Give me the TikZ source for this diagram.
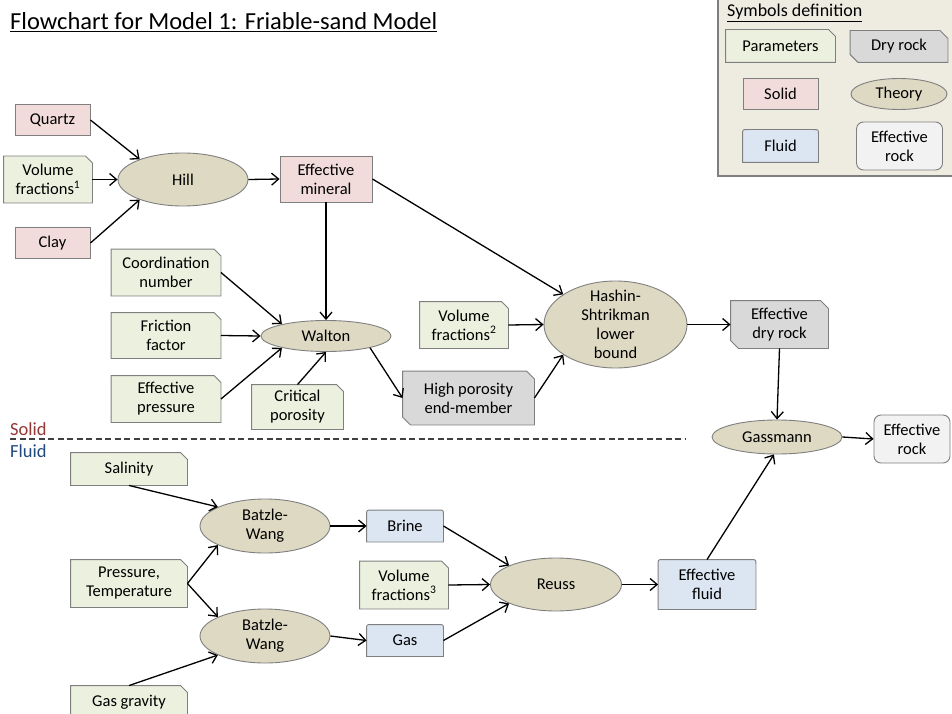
\documentclass[tikz,border=0pt]{standalone}
\usepackage{fontspec}
\setmainfont{Carlito}
\usetikzlibrary{arrows.meta,backgrounds,shapes.geometric}

\definecolor{paramc}{HTML}{EBF1DE}
\definecolor{solidc}{HTML}{F2DCDB}
\definecolor{dryc}{HTML}{D9D9D9}
\definecolor{fluidc}{HTML}{DCE6F2}
\definecolor{theoryc}{HTML}{DDD9C3}
\definecolor{rockc}{HTML}{F2F2F2}
\definecolor{legendc}{HTML}{EEECE1}
\definecolor{edgec}{HTML}{7F7F7F}
\definecolor{solidtxt}{HTML}{953735}
\definecolor{fluidtxt}{HTML}{1F497D}

\tikzset{
    flowbox/.style = {rectangle, inner sep=0pt, align=center, line width=0.9pt,
                      font=\fontsize{16.5}{19}\selectfont},
    sz/.style 2 args = {minimum width=#1pt, minimum height=#2pt},
    parambox/.style = {flowbox},
    drybox/.style = {flowbox},
    fluidbox/.style = {flowbox},
    solidbox/.style = {flowbox, draw=edgec, fill=solidc},
    rockbox/.style = {flowbox, draw=edgec, fill=rockc, rounded corners=7pt},
    theory/.style = {flowbox, ellipse, draw=edgec, fill=theoryc},
    shapeline/.style = {draw=edgec, line width=0.9pt},
    link/.style = {black, line width=1.3pt, -{Straight Barb[length=7pt,width=12pt]}},
    sidelabel/.style = {anchor=west, inner sep=0pt, font=\fontsize{18.5}{22}\selectfont},
}

\begin{document}
\begin{tikzpicture}[x=1pt, y=-1pt]
            \useasboundingbox (0,0) rectangle (952,714);

            \node[anchor=base west, inner sep=0pt, font=\fontsize{24.5}{28}\selectfont] (title) at (10,30)
                {\underline{Flowchart for Model 1: Friable-sand Model}};

            % legend
            \node[anchor=base west, inner sep=0pt, font=\fontsize{18}{22}\selectfont] (legtitle) at (727,17)
                {\underline{Symbols definition}};
            \node[parambox, sz={109}{32}] (legparam) at (780.5,46) {Parameters};
            \node[drybox, sz={97}{31}] (legdry) at (899,46.5) {Dry rock};
            \node[solidbox, sz={75}{31}] (legsolid) at (780.5,93.5) {Solid};
            \node[theory, sz={96}{31}] (legtheory) at (899,94) {Theory};
            \node[fluidbox, sz={75}{32}] (legfluid) at (780.5,146) {Fluid};
            \node[rockbox, sz={86}{48}] (legrock) at (899.5,146) {Effective\\rock};

            % solid part
            \node[solidbox, sz={75}{31}] (quartz) at (52.5,120) {Quartz};
            \node[parambox, sz={88}{46}] (volone) at (48,179.5) {Volume\\fractions\textsuperscript{1}};
            \node[solidbox, sz={75}{31}] (clay) at (52.5,243) {Clay};
            \node[theory, sz={130}{53}] (hill) at (183,179.5) {Hill};
            \node[solidbox, sz={92}{46}] (effmin) at (326,179) {Effective\\mineral};
            \node[parambox, sz={109}{46}] (coord) at (166,272.5) {Coordination\\number};
            \node[parambox, sz={109}{45}] (friction) at (166,335.5) {Friction\\factor};
            \node[parambox, sz={109}{46}] (effpress) at (166,399) {Effective\\pressure};
            \node[theory, sz={130}{31}] (walton) at (326,336) {Walton};
            \node[parambox, sz={91}{44}] (critpor) at (297.5,407) {Critical\\porosity};
            \node[drybox, sz={131}{53}] (highpor) at (468.5,398) {High porosity\\end-member};
            \node[parambox, sz={88}{46}] (voltwo) at (464,325) {Volume\\fractions\textsuperscript{2}};
            \node[theory, sz={143}{87}, inner ysep=-8pt] (hashin) at (615.5,324.5) {Hashin-\\Shtrikman\\lower\\bound};
            \node[drybox, sz={97}{47}] (effdry) at (779.5,324.5) {Effective\\dry rock};
            \node[theory, sz={130}{34}] (gassmann) at (777,437) {Gassmann};
            \node[rockbox, sz={76}{48}] (effrock) at (912,439) {Effective\\rock};

            % divider
            \node[sidelabel, text=solidtxt] (solidlbl) at (10,429) {Solid};
            \node[sidelabel, text=fluidtxt] (fluidlbl) at (10,451) {Fluid};
            \coordinate (divl) at (10,439);
            \coordinate (divr) at (686,439);
            \draw[black!75, line width=1.2pt, dash pattern=on 6pt off 3.5pt] (divl) -- (divr);

            % fluid part
            \node[parambox, sz={116}{32}] (salinity) at (129,469) {Salinity};
            \node[parambox, sz={116}{47}] (prestemp) at (129,583.5) {Pressure,\\Temperature};
            \node[parambox, sz={116}{32}] (gasgrav) at (129,702) {Gas gravity};
            \node[theory, sz={130}{54}] (bwone) at (265,526) {Batzle-\\Wang};
            \node[theory, sz={130}{54}] (bwtwo) at (265,636) {Batzle-\\Wang};
            \node[fluidbox, sz={76}{31}] (brine) at (405,526) {Brine};
            \node[fluidbox, sz={76}{31}] (gas) at (405,640.5) {Gas};
            \node[parambox, sz={88}{47}] (volthree) at (404,585) {Volume\\fractions\textsuperscript{3}};
            \node[theory, sz={131}{53}] (reuss) at (556,584.5) {Reuss};
            \node[fluidbox, sz={97}{49}] (efffluid) at (707,584.5) {Effective\\fluid};

            % connectors
            \draw[link] (quartz.east) -- (hill.155);
            \draw[link] (volone.east) -- (hill.west);
            \draw[link] (clay.east) -- (hill.205);
            \draw[link] (hill.east) -- (effmin.west);
            \draw[link] (effmin.south) -- (walton.north);
            \draw[link] (effmin.east) -- (hashin.150);
            \draw[link] (coord.east) -- (walton.165);
            \draw[link] (friction.east) -- (walton.west);
            \draw[link] (effpress.east) -- (walton.195);
            \draw[link] (critpor.north) -- (walton.south);
            \draw[link] (walton.-15) -- (highpor.west);
            \draw[link] (voltwo.east) -- (hashin.west);
            \draw[link] (highpor.east) -- (hashin.210);
            \draw[link] (hashin.east) -- (effdry.west);
            \draw[link] (effdry.south) -- (gassmann.north);
            \draw[link] (gassmann.east) -- (effrock.west);
            \draw[link] (salinity.south) -- (bwone.158);
            \draw[link] (prestemp.east) -- (bwone.202);
            \draw[link] (prestemp.east) -- (bwtwo.158);
            \draw[link] (gasgrav.north) -- (bwtwo.202);
            \draw[link] (bwone.east) -- (brine.west);
            \draw[link] (bwtwo.east) -- (gas.west);
            \draw[link] (brine.east) -- (reuss.158);
            \draw[link] (volthree.east) -- (reuss.west);
            \draw[link] (gas.east) -- (reuss.202);
            \draw[link] (reuss.east) -- (efffluid.west);
            \draw[link] (efffluid.north) -- (gassmann.260);

            % box outlines behind the texts
            \begin{scope}[on background layer]
                \clip (0,0) rectangle (952,714);
                \fill[legendc] (718,0) rectangle (952,176);
                \draw[edgec, line width=1.2pt] (718,0) |- (952,176);
                \foreach \n in {legparam,volone,coord,friction,effpress,critpor,voltwo,salinity,prestemp,gasgrav,volthree}
                    \draw[shapeline, fill=paramc] (\n.south west) -- (\n.north west) -- ([xshift=-7pt]\n.north east)
                        -- ([yshift=-7pt]\n.north east) -- (\n.south east) -- cycle;
                \foreach \n in {legdry,highpor,effdry}
                    \draw[shapeline, fill=dryc] ([yshift=8pt]\n.south west) -- (\n.north west) -- ([xshift=-8pt]\n.north east)
                        -- ([yshift=-8pt]\n.north east) -- (\n.south east) -- ([xshift=8pt]\n.south west) -- cycle;
                \foreach \n in {legfluid,brine,gas,efffluid}
                    \draw[shapeline, fill=fluidc] (\n.south west) -- ([yshift=-5pt]\n.north west)
                        .. controls (\n.north west) .. ([xshift=5pt]\n.north west) -- ([xshift=-5pt]\n.north east)
                        .. controls (\n.north east) .. ([yshift=-5pt]\n.north east) -- (\n.south east) -- cycle;
            \end{scope}
\end{tikzpicture}
\end{document}
